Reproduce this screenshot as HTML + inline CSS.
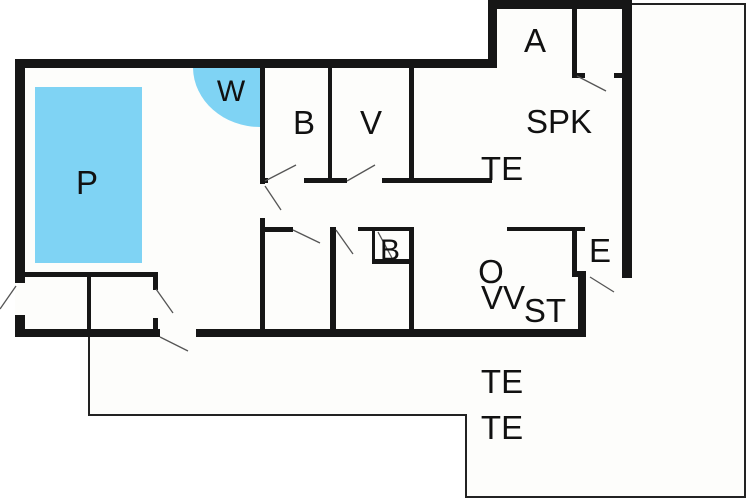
<!DOCTYPE html>
<html><head><style>body{margin:0;background:#fff}svg{display:block}text{font-family:"Liberation Sans",sans-serif;font-size:33px;fill:#111;text-anchor:middle}</style></head>
<body>
<svg width="750" height="500" viewBox="0 0 750 500" xmlns="http://www.w3.org/2000/svg">
<rect width="750" height="500" fill="#fff"/>
<path d="M15 59 H488 V0 H632 V4 H745 V497 H465 V415 H88 V337 H15 Z" fill="#fdfdfb"/>
<path d="M632 4 H745 V497 H466 V415 H89 V337" fill="none" stroke="#222" stroke-width="2"/>
<rect x="35" y="87" width="107" height="176" fill="#7fd3f4"/>
<path d="M260 68 H193 A67 60 0 0 0 260 127 Z" fill="#7fd3f4"/>
<g fill="#161616">
<rect x="15" y="59" width="482" height="9"/>
<rect x="488" y="0" width="9" height="68"/>
<rect x="488" y="0" width="144" height="9"/>
<rect x="622" y="0" width="10" height="278"/>
<rect x="15" y="59" width="10" height="224"/>
<rect x="15" y="315" width="10" height="22"/>
<rect x="15" y="329" width="145" height="8"/>
<rect x="196" y="329" width="390" height="8"/>
<rect x="578" y="271" width="8" height="66"/>
<rect x="572" y="9" width="5" height="69"/>
<rect x="572" y="73" width="13" height="5"/>
<rect x="614" y="73" width="10" height="5"/>
<rect x="260" y="68" width="5" height="116"/>
<rect x="260" y="218" width="5" height="119"/>
<rect x="260" y="178" width="8" height="5"/>
<rect x="328" y="68" width="4" height="114"/>
<rect x="304" y="178" width="43" height="5"/>
<rect x="409" y="68" width="5" height="114"/>
<rect x="382" y="178" width="110" height="5"/>
<rect x="262" y="227" width="31" height="5"/>
<rect x="330" y="227" width="6" height="110"/>
<rect x="358" y="227" width="56" height="4"/>
<rect x="372" y="259" width="40" height="5"/>
<rect x="372" y="231" width="3" height="30"/>
<rect x="409" y="227" width="5" height="110"/>
<rect x="507" y="227" width="78" height="4"/>
<rect x="572" y="227" width="5" height="50"/>
<rect x="572" y="271" width="14" height="6"/>
<rect x="15" y="272" width="143" height="5"/>
<rect x="87" y="272" width="4" height="65"/>
<rect x="153" y="272" width="5" height="18"/>
<rect x="153" y="318" width="5" height="19"/>
</g>
<g stroke="#555" stroke-width="1.3">
<line x1="265" y1="181" x2="296" y2="165"/>
<line x1="347" y1="181" x2="375" y2="165"/>
<line x1="265" y1="186" x2="281" y2="210"/>
<line x1="293" y1="230" x2="320" y2="243"/>
<line x1="336" y1="230" x2="353" y2="254"/>
<line x1="378" y1="232" x2="392" y2="258"/>
<line x1="577" y1="76" x2="606" y2="91"/>
<line x1="590" y1="277" x2="614" y2="292"/>
<line x1="16" y1="286" x2="0" y2="309"/>
<line x1="156" y1="289" x2="173" y2="313"/>
<line x1="160" y1="337" x2="188" y2="351"/>
</g>
<text x="535" y="52">A</text>
<text x="231" y="101" style="font-size:30px">W</text>
<text x="304" y="134">B</text>
<text x="371" y="134">V</text>
<text x="559" y="133">SPK</text>
<text x="502" y="180">TE</text>
<text x="87" y="194">P</text>
<text x="390" y="260" style="font-size:30px">B</text>
<text x="600" y="262">E</text>
<text x="491" y="283">O</text>
<text x="503" y="309">VV</text>
<text x="545" y="322">ST</text>
<text x="502" y="393">TE</text>
<text x="502" y="439">TE</text>
</svg>
</body></html>
